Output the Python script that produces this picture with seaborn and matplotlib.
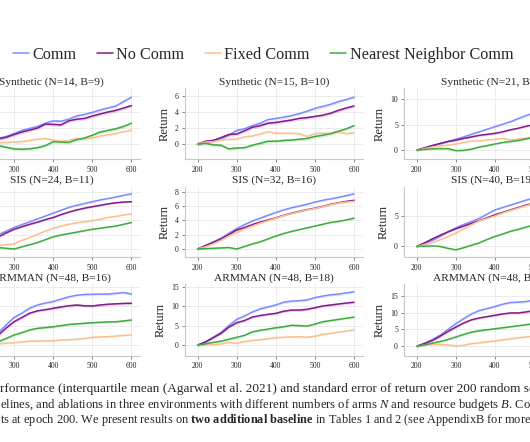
import numpy as np
import pandas as pd
import matplotlib
matplotlib.use("Agg")
import matplotlib.pyplot as plt
from matplotlib.ticker import MultipleLocator
from matplotlib.lines import Line2D
import seaborn as sns

# ---------------- data ----------------
epochs = [200, 220, 240, 260, 280, 300, 320, 340, 360, 380, 400,
          420, 440, 460, 480, 500, 520, 540, 560, 580, 600]
methods = ["Comm", "No Comm", "Fixed Comm", "Nearest Neighbor Comm"]

titles = ["Synthetic (N=14, B=9)", "Synthetic (N=15, B=10)", "Synthetic (N=21, B=9)",
          "SIS (N=24, B=11)", "SIS (N=32, B=16)", "SIS (N=40, B=19)",
          "ARMMAN (N=48, B=16)", "ARMMAN (N=48, B=18)", "ARMMAN (N=48, B=20)"]

# Synthetic N=14
syn14_comm   = [0, 0.25, 0.45, 0.7, 0.95, 1.3, 1.7, 1.95, 2.2, 2.6, 2.9, 2.85, 3.1, 3.5, 3.7, 3.95, 4.25, 4.5, 4.75, 5.3, 5.85]
syn14_nocomm = [0, 0.2, 0.4, 0.65, 0.85, 1.2, 1.5, 1.75, 2.0, 2.5, 2.45, 2.4, 2.9, 3.1, 3.2, 3.5, 3.75, 4.0, 4.2, 4.5, 4.8]
syn14_fixed  = [0, 0.05, 0.1, 0.15, 0.2, 0.25, 0.3, 0.45, 0.6, 0.7, 0.5, 0.35, 0.45, 0.7, 0.65, 0.75, 1.0, 1.15, 1.3, 1.55, 1.75]
syn14_nn     = [0, -0.05, -0.15, -0.2, -0.4, -0.6, -0.65, -0.6, -0.45, -0.2, 0.3, 0.25, 0.2, 0.55, 0.75, 1.1, 1.5, 1.7, 1.9, 2.2, 2.6]
# Synthetic N=15
syn15_comm   = [0, 0.2, 0.4, 0.7, 1.1, 1.7, 1.9, 2.3, 2.6, 3.05, 3.2, 3.35, 3.55, 3.8, 4.1, 4.45, 4.7, 4.95, 5.3, 5.55, 5.85]
syn15_nocomm = [0, 0.35, 0.45, 0.8, 1.2, 1.25, 1.65, 2.1, 2.3, 2.6, 2.7, 2.85, 3.0, 3.2, 3.3, 3.45, 3.6, 3.85, 4.2, 4.5, 4.75]
syn15_fixed  = [0, 0.25, 0.3, 0.5, 0.6, 0.6, 0.9, 1.0, 1.25, 1.55, 1.35, 1.35, 1.35, 1.3, 0.95, 1.3, 1.35, 1.35, 1.5, 1.3, 1.4]
syn15_nn     = [0, 0.1, -0.1, -0.15, -0.6, -0.5, -0.45, -0.15, 0.1, 0.35, 0.35, 0.45, 0.5, 0.6, 0.7, 0.95, 1.1, 1.3, 1.6, 1.9, 2.3]
# Synthetic N=21
syn21_comm   = [0, 0.45, 0.9, 1.3, 1.7, 2.15, 2.6, 3.1, 3.6, 4.1, 4.6, 5.1, 5.6, 6.2, 6.8, 7.3, 7.8, 8.3, 8.8, 9.3, 9.8]
syn21_nocomm = [0, 0.45, 0.9, 1.3, 1.7, 1.95, 2.3, 2.6, 2.9, 3.1, 3.3, 3.6, 4.0, 4.3, 4.7, 5.0, 5.3, 5.7, 6.0, 6.4, 6.8]
syn21_fixed  = [0, 0.3, 0.6, 0.8, 1.0, 1.2, 1.5, 1.8, 1.8, 2.0, 2.1, 2.3, 2.0, 2.2, 2.4, 2.6, 2.8, 3.0, 3.1, 3.3, 3.5]
syn21_nn     = [0, 0.15, 0.25, 0.3, 0.3, -0.1, -0.05, 0.2, 0.6, 0.9, 1.2, 1.5, 1.7, 1.9, 2.2, 2.5, 2.7, 2.9, 3.1, 3.3, 3.5]
# SIS N=24
sis24_comm   = [0, 0.7, 1.4, 2.0, 2.5, 3.0, 3.4, 3.8, 4.2, 4.6, 5.0, 5.4, 5.8, 6.1, 6.35, 6.6, 6.85, 7.05, 7.25, 7.5, 7.7]
sis24_nocomm = [0, 0.6, 1.2, 1.7, 2.25, 2.75, 3.1, 3.45, 3.75, 4.1, 4.4, 4.8, 5.15, 5.45, 5.7, 5.9, 6.1, 6.3, 6.45, 6.55, 6.6]
sis24_fixed  = [0, 0.2, 0.35, 0.5, 0.6, 0.7, 1.2, 1.6, 2.05, 2.5, 2.9, 3.2, 3.45, 3.65, 3.8, 3.95, 4.15, 4.4, 4.55, 4.75, 4.9]
sis24_nn     = [0, 0.1, 0.15, 0.2, 0.1, 0.0, 0.3, 0.6, 0.9, 1.3, 1.7, 1.95, 2.15, 2.35, 2.55, 2.75, 2.9, 3.05, 3.2, 3.45, 3.7]
# SIS N=32
sis32_comm   = [0, 0.5, 1.0, 1.5, 2.2, 2.85, 3.4, 3.9, 4.3, 4.7, 5.1, 5.45, 5.75, 6.0, 6.25, 6.55, 6.8, 7.0, 7.2, 7.45, 7.7]
sis32_nocomm = [0, 0.45, 0.9, 1.4, 2.0, 2.65, 3.0, 3.4, 3.75, 4.05, 4.35, 4.7, 5.0, 5.25, 5.5, 5.7, 5.95, 6.25, 6.45, 6.65, 6.8]
sis32_fixed  = [0, 0.3, 0.7, 1.2, 1.8, 2.3, 2.75, 3.2, 3.6, 3.95, 4.3, 4.65, 4.95, 5.2, 5.45, 5.65, 5.9, 6.2, 6.4, 6.55, 6.65]
sis32_nn     = [0, 0.05, 0.1, 0.15, 0.2, 0.0, 0.35, 0.7, 1.0, 1.4, 1.8, 2.15, 2.45, 2.7, 2.95, 3.2, 3.45, 3.7, 3.85, 4.05, 4.3]
# SIS N=40
sis40_comm   = [0, 0.5, 1.0, 1.65, 2.4, 3.05, 3.6, 4.1, 4.6, 5.3, 6.0, 6.4, 6.8, 7.2, 7.6, 7.95, 8.3, 8.6, 8.9, 9.2, 9.5]
sis40_nocomm = [0, 0.6, 1.25, 1.85, 2.4, 2.9, 3.35, 3.8, 4.25, 4.7, 5.2, 5.6, 6.0, 6.4, 6.8, 7.1, 7.4, 7.7, 8.0, 8.25, 8.5]
sis40_fixed  = [0, 0.3, 0.6, 1.1, 1.65, 2.2, 2.9, 3.55, 4.2, 4.6, 5.0, 5.5, 5.9, 6.3, 6.7, 7.0, 7.3, 7.6, 7.9, 8.2, 8.4]
sis40_nn     = [0, 0.05, 0.1, 0.0, -0.3, -0.55, -0.2, 0.2, 0.6, 1.15, 1.65, 2.05, 2.5, 2.8, 3.2, 3.5, 3.8, 4.1, 4.4, 4.7, 5.0]
# ARMMAN B=16
arm16_comm   = [0, 0.8, 1.7, 3.2, 5.2, 7.1, 8.2, 9.5, 10.3, 10.8, 11.2, 11.8, 12.4, 12.8, 13.0, 13.05, 13.1, 13.1, 13.3, 13.5, 13.1]
arm16_nocomm = [0, 0.7, 1.5, 2.6, 4.4, 6.0, 7.1, 8.2, 8.8, 9.1, 9.45, 9.8, 10.1, 10.3, 10.1, 10.05, 10.3, 10.5, 10.6, 10.7, 10.75]
arm16_fixed  = [0, 0.1, 0.2, 0.35, 0.5, 0.6, 0.8, 1.0, 1.05, 1.1, 1.1, 1.3, 1.4, 1.5, 1.7, 2.0, 2.1, 2.2, 2.3, 2.5, 2.6]
arm16_nn     = [0, 0.3, 0.6, 0.9, 1.7, 2.6, 3.2, 3.9, 4.3, 4.5, 4.7, 5.0, 5.3, 5.45, 5.6, 5.75, 5.85, 5.95, 6.0, 6.2, 6.45]
# ARMMAN B=18
arm18_comm   = [0, 0.8, 2.0, 3.3, 5.0, 6.6, 7.5, 8.5, 9.3, 9.8, 10.3, 11.0, 11.3, 11.4, 11.6, 12.2, 12.6, 12.9, 13.1, 13.4, 13.7]
arm18_nocomm = [0, 0.8, 1.9, 3.0, 4.6, 5.75, 6.3, 7.2, 7.6, 7.9, 8.15, 8.7, 9.0, 9.0, 9.2, 9.6, 10.05, 10.3, 10.55, 10.8, 11.0]
arm18_fixed  = [0, 0.05, 0.1, 0.3, 0.7, 0.45, 0.9, 1.2, 1.4, 1.6, 1.9, 2.0, 2.1, 2.15, 2.0, 2.3, 2.75, 3.0, 3.3, 3.6, 3.9]
arm18_nn     = [0, 0.3, 0.7, 1.0, 1.5, 2.0, 2.5, 3.4, 3.8, 4.1, 4.45, 4.7, 5.1, 5.0, 4.9, 5.4, 6.0, 6.3, 6.6, 6.9, 7.2]
# ARMMAN B=20
arm20_comm   = [0, 0.9, 2.0, 3.3, 5.0, 6.7, 8.2, 9.6, 10.6, 11.2, 11.8, 12.5, 13.0, 13.1, 13.3, 13.7, 14.0, 14.3, 14.6, 14.8, 15.0]
arm20_nocomm = [0, 0.8, 1.7, 3.0, 4.4, 5.7, 6.9, 7.85, 8.4, 8.8, 9.2, 9.6, 9.9, 9.9, 10.2, 10.6, 10.9, 11.2, 11.5, 11.8, 12.0]
arm20_fixed  = [0, 0.3, 0.5, 0.5, 0.4, 0.1, 0.3, 0.8, 1.0, 1.3, 1.55, 1.9, 2.2, 2.5, 2.8, 2.95, 3.2, 3.4, 3.6, 3.8, 4.0]
arm20_nn     = [0, 0.4, 0.9, 1.4, 2.0, 2.75, 3.5, 4.2, 4.6, 4.9, 5.2, 5.5, 5.8, 6.1, 6.4, 6.7, 7.0, 7.2, 7.4, 7.6, 7.8]

# standard error half-widths (per panel, per method)
se_values = [[0.2, 0.2, 0.15, 0.2], [0.2, 0.2, 0.15, 0.2], [0.2, 0.2, 0.15, 0.2],
             [0.12, 0.12, 0.1, 0.1], [0.12, 0.12, 0.1, 0.1], [0.12, 0.12, 0.1, 0.1],
             [0.35, 0.35, 0.25, 0.3], [0.35, 0.35, 0.25, 0.3], [0.35, 0.35, 0.25, 0.3]]

panel_series = [
    [syn14_comm, syn14_nocomm, syn14_fixed, syn14_nn],
    [syn15_comm, syn15_nocomm, syn15_fixed, syn15_nn],
    [syn21_comm, syn21_nocomm, syn21_fixed, syn21_nn],
    [sis24_comm, sis24_nocomm, sis24_fixed, sis24_nn],
    [sis32_comm, sis32_nocomm, sis32_fixed, sis32_nn],
    [sis40_comm, sis40_nocomm, sis40_fixed, sis40_nn],
    [arm16_comm, arm16_nocomm, arm16_fixed, arm16_nn],
    [arm18_comm, arm18_nocomm, arm18_fixed, arm18_nn],
    [arm20_comm, arm20_nocomm, arm20_fixed, arm20_nn],
]

ylims = [(-1.9, 7.0), (-1.9, 7.0), (-1.8, 12.2),
         (-1.16, 8.7), (-1.16, 8.7), (-1.77, 9.8),
         (-2.8, 15.7), (-2.8, 15.7), (-2.9, 18.5)]
ytick_steps = [2, 2, 5, 2, 2, 5, 5, 5, 5]

caption_lines = [
    r"rformance (interquartile mean (Agarwal et al. 2021) and standard error of return over 200 random seeds",
    r"elines, and ablations in three environments with different numbers of arms $\mathit{N}$ and resource budgets $\mathit{B}$. Comm",
    r"ts at epoch 200. We present results on $\mathbf{two\ additional\ baseline}$ in Tables 1 and 2 (see AppendixB for more",
]
caption_sizes = [9.5, 9.05, 8.95]

# ---------------- style ----------------
colors = ["#7d8bff", "#861a88", "#fac08e", "#3dac3d"]
palette = dict(zip(methods, colors))

sns.set_theme(style="whitegrid")
plt.rcParams["font.family"] = ["Liberation Serif", "DejaVu Serif"]
plt.rcParams["mathtext.fontset"] = "custom"
plt.rcParams["mathtext.rm"] = "Liberation Serif"
plt.rcParams["mathtext.it"] = "Liberation Serif:italic"
plt.rcParams["mathtext.bf"] = "Liberation Serif:bold"

W, H = 530, 442
fig = plt.figure(figsize=(W / 100, H / 100), dpi=100)
fig.patch.set_facecolor("white")

col_left = [-37.6, 185.0, 404.2]
ax_w = 178.0
row_tb = [(88.0, 159.3), (186.7, 257.3), (284.0, 356.0)]

for i in range(9):
    r, c = divmod(i, 3)
    t, b = row_tb[r]
    ax = fig.add_axes([col_left[c] / W, 1 - b / H, ax_w / W, (b - t) / H])
    frames = []
    for m, vals in zip(methods, panel_series[i]):
        frames.append(pd.DataFrame({"epoch": epochs, "ret": vals, "method": m}))
    df = pd.concat(frames, ignore_index=True)
    for m, se in zip(methods, se_values[i]):
        sub = df[df.method == m]
        ax.fill_between(sub.epoch, sub.ret - se, sub.ret + se,
                        color=palette[m], alpha=0.18, linewidth=0)
    sns.lineplot(data=df, x="epoch", y="ret", hue="method", palette=palette,
                 hue_order=methods, ax=ax, legend=False, linewidth=1.1)
    ax.set_xlim(168, 623)
    ax.set_ylim(*ylims[i])
    ax.xaxis.set_major_locator(MultipleLocator(100))
    ax.yaxis.set_major_locator(MultipleLocator(ytick_steps[i]))
    ax.set_title(titles[i], fontsize=8.2, pad=2.5)
    ax.set_xlabel("")
    ax.set_ylabel("Return", fontsize=9, labelpad=3)
    ax.grid(True, color="#e9e9e9", linewidth=0.6)
    for s in ["top", "right"]:
        ax.spines[s].set_visible(False)
    for s in ["left", "bottom"]:
        ax.spines[s].set_color("#c8c8c8")
        ax.spines[s].set_linewidth(0.8)
    ax.tick_params(axis="both", labelsize=5.6, length=2.5, width=0.5,
                   color="#555555", pad=2, bottom=True, left=True)

handles = [Line2D([0], [0], color=col, lw=1.1) for col in colors]
fig.legend(handles, methods, loc="center", bbox_to_anchor=(263 / W, 1 - 55 / H),
           ncol=4, frameon=False, fontsize=11.7, handlelength=1.0,
           handletextpad=0.2, columnspacing=1.25, borderpad=0, borderaxespad=0)

for line, fs, yb in zip(caption_lines, caption_sizes, [392, 408, 423.5]):
    fig.text(0.0, 1 - yb / H, line, fontsize=fs, ha="left", va="baseline")

fig.savefig("out.png", dpi=100, facecolor="white")
